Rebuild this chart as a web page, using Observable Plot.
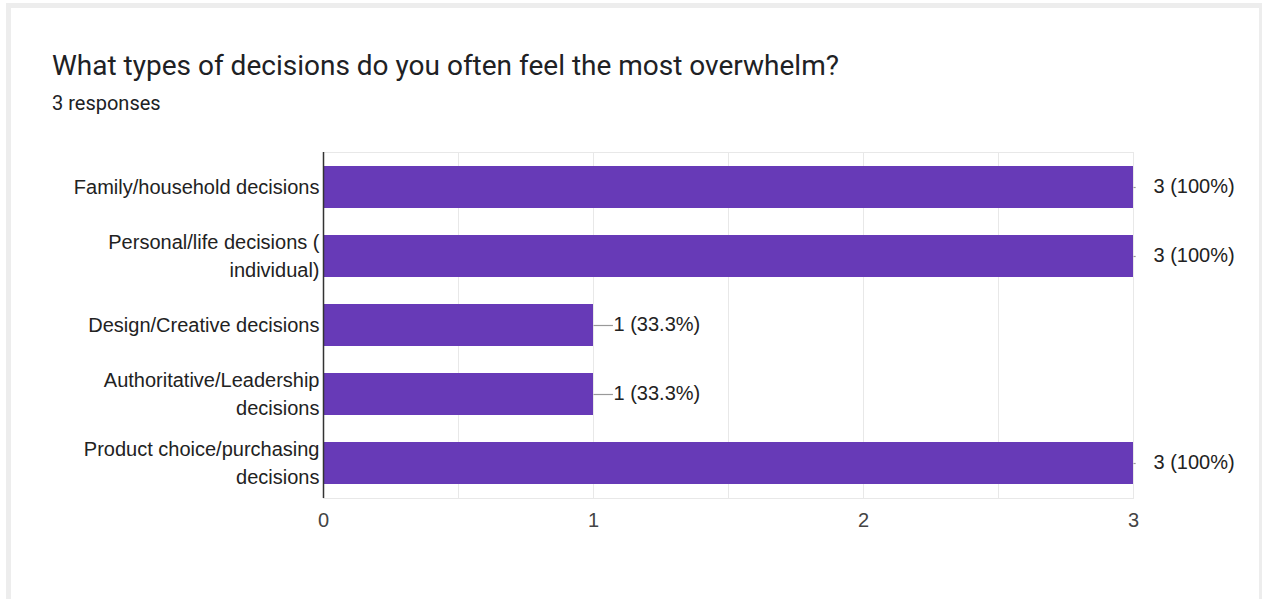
<!DOCTYPE html>
<html>
<head>
<meta charset="utf-8">
<script src="https://cdn.jsdelivr.net/npm/d3@7"></script>
<script src="https://cdn.jsdelivr.net/npm/@observablehq/plot@0.6"></script>
<style>
  html, body { margin: 0; padding: 0; background: #ffffff; width: 1262px; height: 599px; overflow: hidden; }
  #card { position: absolute; left: 6px; top: 3px; width: 1248px; height: 620px; border: 5px solid #ededed; background: #fff; }
  #title { position: absolute; left: 52px; top: 48px; font-family: Roboto, "Open Sans", sans-serif; font-size: 28px; color: #202124; white-space: nowrap; line-height: 36px; }
  #subtitle { position: absolute; left: 52px; top: 90px; font-family: Roboto, "Open Sans", sans-serif; font-size: 20px; color: #202124; white-space: nowrap; line-height: 26px; }
  #chart { position: absolute; left: 0; top: 130px; }
</style>
</head>
<body>
<div id="card"></div>
<div id="title">What types of decisions do you often feel the most overwhelm?</div>
<div id="subtitle">3 responses</div>
<div id="chart"></div>
<script>
const totalResponses = 3;
const categories = [
  "Family/household decisions",
  "Personal/life decisions ( individual)",
  "Design/Creative decisions",
  "Authoritative/Leadership decisions",
  "Product choice/purchasing decisions"
];
const tickLabels = [
  "Family/household decisions",
  "Personal/life decisions (\nindividual)",
  "Design/Creative decisions",
  "Authoritative/Leadership\ndecisions",
  "Product choice/purchasing\ndecisions"
];
const counts = [3, 3, 1, 1, 3];
const xTicks = [0, 1, 2, 3];
const gridTicks = [0.5, 1, 1.5, 2, 2.5, 3];

const data = categories.map((c, i) => ({category: c, value: counts[i]}));
const maxVal = d3.max(counts);
const labelFor = d => `${d.value} (${+(d.value / totalResponses * 100).toFixed(1)}%)`;
const labelMap = new Map(categories.map((c, i) => [c, tickLabels[i]]));

const chart = Plot.plot({
  width: 1262,
  height: 420,
  marginLeft: 323,
  marginRight: 129,
  marginTop: 22,
  marginBottom: 52,
  style: {fontFamily: '"Liberation Sans", Arial, sans-serif', fontSize: "20px", color: "#222", background: "transparent"},
  x: {domain: [0, 3], ticks: xTicks, label: null},
  y: {domain: categories, label: null, paddingInner: 0.39, paddingOuter: 0.195},
  marks: [
    Plot.gridX(gridTicks, {stroke: "#e8e8e8", strokeOpacity: 1}),
    Plot.frame({stroke: "#e8e8e8"}),
    Plot.barX(data, {x: "value", y: "category", fill: "#673ab7"}),
    Plot.link(data, {
      x1: "value",
      x2: d => d.value + (d.value === maxVal ? 0.008 : 0.072),
      y1: "category",
      y2: "category",
      stroke: "#999",
      strokeWidth: 1.2
    }),
    Plot.text(data, {
      x: "value", y: "category", text: labelFor,
      dx: 20, dy: -1, textAnchor: "start", fill: "#222", fontSize: 20
    }),
    Plot.ruleX([0], {stroke: "#333", strokeWidth: 1.5}),
    Plot.axisX(xTicks, {tickSize: 0, tickPadding: 14, fontSize: 20, fill: "#444", label: null, tickFormat: d3.format("d")}),
    Plot.axisY({tickSize: 0, tickPadding: 4, dy: -2, fontSize: 20, fill: "#222", lineHeight: 1.4, tickFormat: c => labelMap.get(c), label: null})
  ]
});
document.getElementById("chart").appendChild(chart);
</script>
</body>
</html>
